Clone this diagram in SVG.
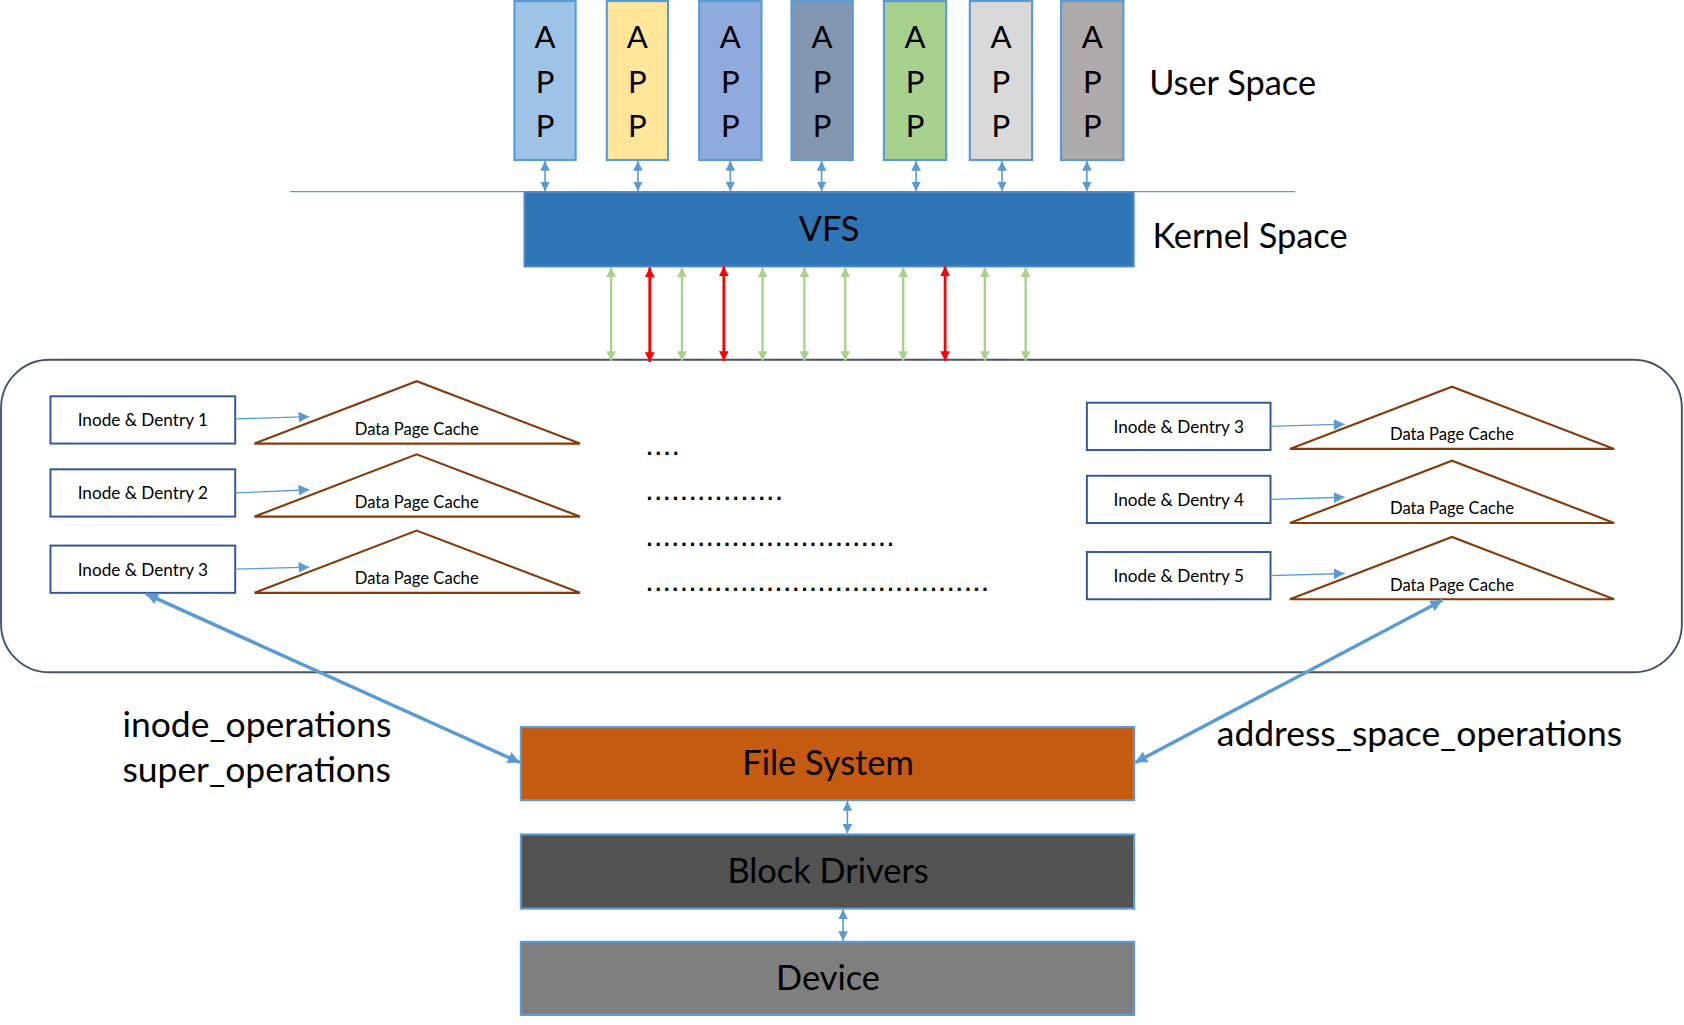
<svg xmlns="http://www.w3.org/2000/svg" width="1684" height="1025" viewBox="0 0 1684 1025">
<defs>
<style>
.app{stroke:#5B9BD5;stroke-width:2}
.appt{font-family:Lato,"Liberation Sans",sans-serif;font-size:29px;fill:#000;text-anchor:middle}
.big{font-family:Lato,"Liberation Sans",sans-serif;font-size:32px;fill:#000}
.lab{font-size:33px}
.mid{text-anchor:middle}
.box{fill:#fff;stroke:#2F5597;stroke-width:1.8}
.boxt{font-family:Lato,"Liberation Sans",sans-serif;font-size:16px;fill:#000;text-anchor:middle}
.tri{fill:#fff;stroke:#843C0C;stroke-width:2}
.trit{font-family:Lato,"Liberation Sans",sans-serif;font-size:15.5px;fill:#000;text-anchor:middle}
.layer{stroke:#5B9BD5;stroke-width:2}
.sb{stroke:#5B9BD5;stroke-width:1.5;fill:none;marker-start:url(#mb);marker-end:url(#mb)}
.thin{stroke:#5B9BD5;stroke-width:1.2;fill:none;marker-end:url(#mt)}
.gr{stroke:#A9D18E;stroke-width:2.2;fill:none;marker-start:url(#mg);marker-end:url(#mg)}
.rd{stroke:#FF0000;stroke-width:2.6;fill:none;marker-start:url(#mr);marker-end:url(#mr)}
.bl{stroke:#5B9BD5;stroke-width:3.2;fill:none;marker-start:url(#mB);marker-end:url(#mB)}
.dots{font-family:"Liberation Sans",sans-serif;font-size:20px;font-weight:bold;fill:#000}
</style>
<marker id="mb" markerUnits="userSpaceOnUse" viewBox="0 0 10 10" refX="10" refY="5" markerWidth="9" markerHeight="9" orient="auto-start-reverse"><path d="M0,0 L10,5 L0,10 z" fill="#5B9BD5"/></marker>
<marker id="mt" markerUnits="userSpaceOnUse" viewBox="0 0 10 10" refX="10" refY="5" markerWidth="10" markerHeight="10" orient="auto"><path d="M0,0 L10,5 L0,10 z" fill="#5B9BD5"/></marker>
<marker id="mg" markerUnits="userSpaceOnUse" viewBox="0 0 10 10" refX="10" refY="5" markerWidth="9" markerHeight="9" orient="auto-start-reverse"><path d="M0,0 L10,5 L0,10 z" fill="#A9D18E"/></marker>
<marker id="mr" markerUnits="userSpaceOnUse" viewBox="0 0 10 10" refX="10" refY="5" markerWidth="10" markerHeight="9" orient="auto-start-reverse"><path d="M0,0 L10,5 L0,10 z" fill="#FF0000"/></marker>
<marker id="mB" markerUnits="userSpaceOnUse" viewBox="0 0 10 10" refX="10" refY="5" markerWidth="13" markerHeight="11" orient="auto-start-reverse"><path d="M0,0 L10,5 L0,10 z" fill="#5B9BD5"/></marker>
</defs>
<rect width="1684" height="1025" fill="#fff"/>
<g transform="scale(1.07398)">
<g id="separator"><line x1="270" y1="178.5" x2="1206" y2="178.5" stroke="#5B9BD5" stroke-width="1.2"/></g>
<g id="app1"><rect class="app" x="479" y="1" width="57" height="148" fill="#9DC3E6"/><text class="appt" x="507.5" y="45">A</text><text class="appt" x="507.5" y="87">P</text><text class="appt" x="507.5" y="128">P</text></g>
<g id="app2"><rect class="app" x="565" y="1" width="57" height="148" fill="#FFE699"/><text class="appt" x="593.5" y="45">A</text><text class="appt" x="593.5" y="87">P</text><text class="appt" x="593.5" y="128">P</text></g>
<g id="app3"><rect class="app" x="651" y="1" width="58" height="148" fill="#8FAADC"/><text class="appt" x="680" y="45">A</text><text class="appt" x="680" y="87">P</text><text class="appt" x="680" y="128">P</text></g>
<g id="app4"><rect class="app" x="737" y="1" width="57" height="148" fill="#8497B0"/><text class="appt" x="765.5" y="45">A</text><text class="appt" x="765.5" y="87">P</text><text class="appt" x="765.5" y="128">P</text></g>
<g id="app5"><rect class="app" x="823" y="1" width="58" height="148" fill="#A9D18E"/><text class="appt" x="852" y="45">A</text><text class="appt" x="852" y="87">P</text><text class="appt" x="852" y="128">P</text></g>
<g id="app6"><rect class="app" x="903" y="1" width="58" height="148" fill="#D9D9D9"/><text class="appt" x="932" y="45">A</text><text class="appt" x="932" y="87">P</text><text class="appt" x="932" y="128">P</text></g>
<g id="app7"><rect class="app" x="988" y="1" width="58" height="148" fill="#AEAAAA"/><text class="appt" x="1017" y="45">A</text><text class="appt" x="1017" y="87">P</text><text class="appt" x="1017" y="128">P</text></g>
<g id="userspace"><text class="big" x="1070" y="88">User Space</text></g>
<g id="vfs"><rect x="488.5" y="179" width="567" height="69" fill="#2E75B6" stroke="#4A86C8" stroke-width="2"/><text class="big mid" x="772" y="224" font-size="30">VFS</text></g>
<g id="kernelspace"><text class="big" x="1073" y="231">Kernel Space</text></g>
<g id="cache-area"><rect x="1" y="335" width="1565" height="291" rx="45" ry="45" fill="none" stroke="#44546A" stroke-width="1.8"/></g>
<g id="inode1"><rect class="box" x="47" y="369" width="172" height="44"/><text class="boxt" x="133" y="397">Inode &amp; Dentry 1</text></g>
<g id="inode2"><rect class="box" x="47" y="437" width="172" height="44"/><text class="boxt" x="133" y="465">Inode &amp; Dentry 2</text></g>
<g id="inode3"><rect class="box" x="47" y="508" width="172" height="44"/><text class="boxt" x="133" y="536">Inode &amp; Dentry 3</text></g>
<g id="cacheL1"><path class="tri" d="M237,413 L388,355 L540,413 Z"/><text class="trit" x="388" y="405">Data Page Cache</text></g>
<g id="cacheL2"><path class="tri" d="M237,481 L388,423 L540,481 Z"/><text class="trit" x="388" y="473">Data Page Cache</text></g>
<g id="cacheL3"><path class="tri" d="M237,552 L388,494 L540,552 Z"/><text class="trit" x="388" y="544">Data Page Cache</text></g>
<g id="inodeR3"><rect class="box" x="1012" y="375" width="171" height="44"/><text class="boxt" x="1097.5" y="403">Inode &amp; Dentry 3</text></g>
<g id="inodeR4"><rect class="box" x="1012" y="443" width="171" height="44"/><text class="boxt" x="1097.5" y="471">Inode &amp; Dentry 4</text></g>
<g id="inodeR5"><rect class="box" x="1012" y="514" width="171" height="44"/><text class="boxt" x="1097.5" y="542">Inode &amp; Dentry 5</text></g>
<g id="cacheR1"><path class="tri" d="M1201,418 L1352,360 L1503,418 Z"/><text class="trit" x="1352" y="410">Data Page Cache</text></g>
<g id="cacheR2"><path class="tri" d="M1201,487 L1352,429 L1503,487 Z"/><text class="trit" x="1352" y="479">Data Page Cache</text></g>
<g id="cacheR3"><path class="tri" d="M1201,558 L1352,500 L1503,558 Z"/><text class="trit" x="1352" y="550">Data Page Cache</text></g>
<g id="ellipsis">
<text class="dots" x="602" y="424" textLength="30" lengthAdjust="spacing">....</text>
<text class="dots" x="602" y="466" textLength="126" lengthAdjust="spacing">................</text>
<text class="dots" x="602" y="508" textLength="230" lengthAdjust="spacing">.............................</text>
<text class="dots" x="602" y="550" textLength="318" lengthAdjust="spacing">........................................</text>
</g>
<g id="opsL"><text class="big lab" x="114" y="686">inode_operations</text><text class="big lab" x="114" y="728">super_operations</text></g>
<g id="opsR"><text class="big lab" x="1133" y="695">address_space_operations</text></g>
<g id="filesystem"><rect class="layer" x="485" y="677" width="571" height="68" fill="#C55A11"/><text class="big mid" x="771" y="722">File System</text></g>
<g id="blockdrivers"><rect class="layer" x="485" y="777" width="571" height="69" fill="#525252"/><text class="big mid" x="771" y="822">Block Drivers</text></g>
<g id="device"><rect class="layer" x="485" y="877" width="571" height="68" fill="#7F7F7F"/><text class="big mid" x="771" y="922">Device</text></g>
<g id="connectors">
<line class="sb" x1="507.5" y1="150" x2="507.5" y2="178"/>
<line class="sb" x1="594" y1="150" x2="594" y2="178"/>
<line class="sb" x1="680" y1="150" x2="680" y2="178"/>
<line class="sb" x1="765" y1="150" x2="765" y2="178"/>
<line class="sb" x1="853" y1="150" x2="853" y2="178"/>
<line class="sb" x1="933" y1="150" x2="933" y2="178"/>
<line class="sb" x1="1012" y1="150" x2="1012" y2="178"/>
<line class="gr" x1="569" y1="249" x2="569" y2="336"/>
<line class="rd" x1="605" y1="249" x2="605" y2="337"/>
<line class="gr" x1="635" y1="249" x2="635" y2="336"/>
<line class="rd" x1="674" y1="248" x2="674" y2="336"/>
<line class="gr" x1="710" y1="249" x2="710" y2="336"/>
<line class="gr" x1="749" y1="249" x2="749" y2="336"/>
<line class="gr" x1="787" y1="249" x2="787" y2="336"/>
<line class="gr" x1="841" y1="249" x2="841" y2="336"/>
<line class="rd" x1="880" y1="248" x2="880" y2="336"/>
<line class="gr" x1="917" y1="249" x2="917" y2="336"/>
<line class="gr" x1="955" y1="249" x2="955" y2="336"/>
<line class="thin" x1="219" y1="390" x2="288" y2="388"/>
<line class="thin" x1="219" y1="459" x2="288" y2="456"/>
<line class="thin" x1="219" y1="530" x2="288" y2="528"/>
<line class="thin" x1="1183" y1="397" x2="1252" y2="395"/>
<line class="thin" x1="1183" y1="465" x2="1252" y2="463"/>
<line class="thin" x1="1183" y1="536" x2="1252" y2="534"/>
<line class="bl" x1="136" y1="553" x2="484" y2="710"/>
<line class="bl" x1="1343" y1="559" x2="1057" y2="710"/>
<line class="sb" x1="789" y1="746" x2="789" y2="776"/>
<line class="sb" x1="785" y1="847" x2="785" y2="876"/>
</g>
</g>
</svg>
